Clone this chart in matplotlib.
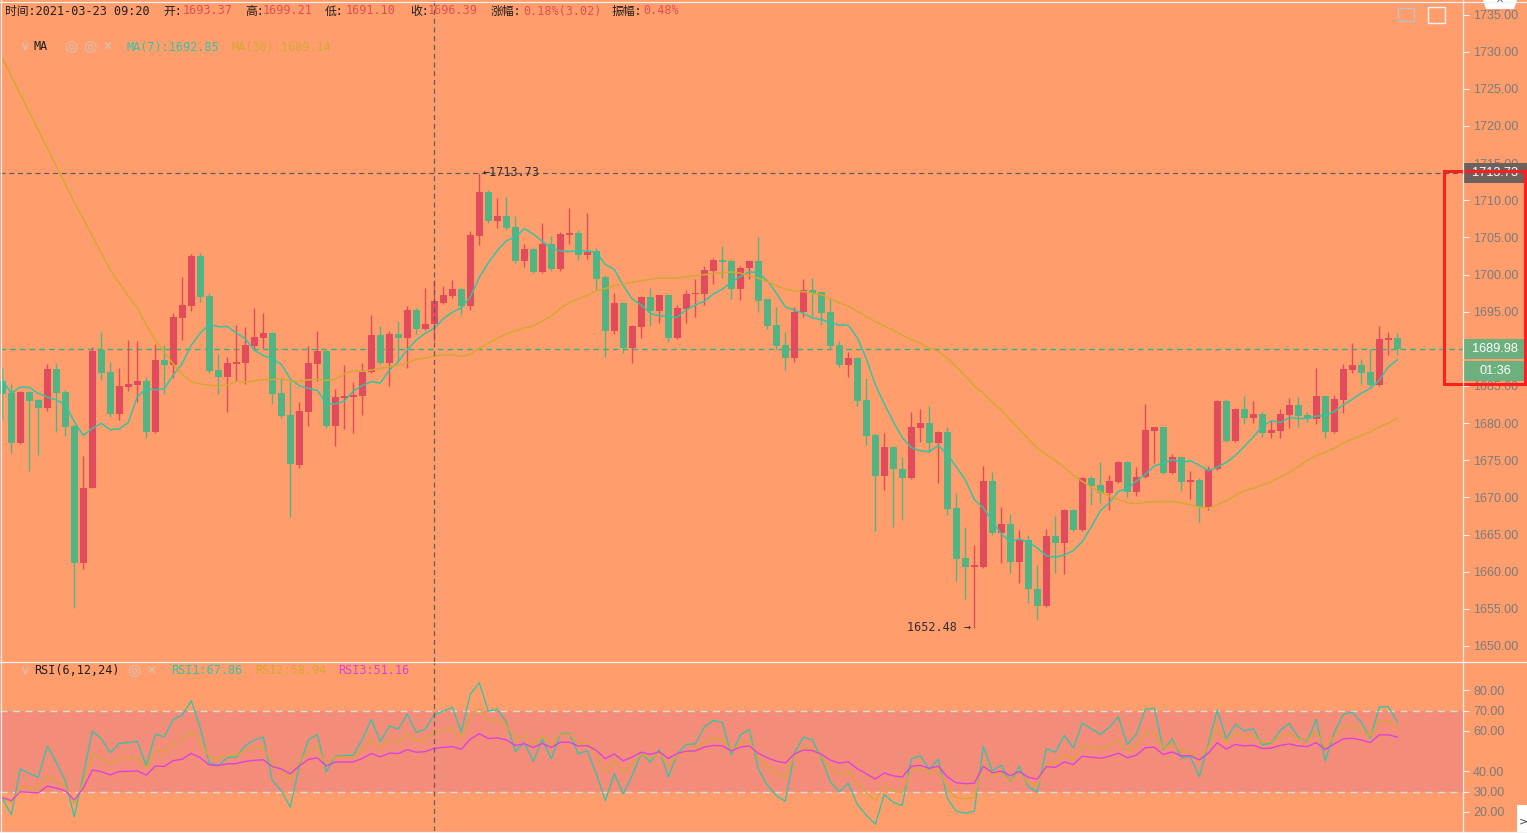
import numpy as np
import pandas as pd
import matplotlib
matplotlib.use("Agg")
import matplotlib.pyplot as plt
from matplotlib.patches import Rectangle, Polygon
from matplotlib.lines import Line2D
from matplotlib.transforms import blended_transform_factory

# ---------------- data ----------------
opens = [1685.67, 1684.01, 1677.28, 1684.19, 1683.11, 1682.08, 1687.29, 1684.19, 1679.61, 1661.12,
         1671.22, 1689.80, 1686.88, 1681.27, 1684.91, 1685.18, 1685.67, 1678.85, 1688.50, 1687.87,
         1694.20, 1695.81, 1702.50, 1697.11, 1687.15, 1686.25, 1687.96, 1688.05, 1690.38, 1691.50,
         1692.09, 1684.01, 1681.09, 1674.40, 1681.54, 1688.00, 1689.75, 1679.66, 1683.43, 1683.50,
         1683.65, 1686.92, 1691.86, 1688.14, 1692.00, 1691.50, 1695.23, 1692.71, 1693.37, 1696.21,
         1697.15, 1698.05, 1695.81, 1705.23, 1711.07, 1707.25, 1707.88, 1706.36, 1701.87, 1703.44,
         1700.39, 1704.11, 1700.79, 1705.37, 1705.64, 1702.63, 1703.22, 1699.62, 1692.45, 1696.13,
         1690.16, 1693.00, 1697.02, 1695.14, 1697.25, 1691.50, 1695.37, 1697.34, 1697.38, 1700.53,
         1701.96, 1701.83, 1698.06, 1700.84, 1701.83, 1696.67, 1693.21, 1690.52, 1688.81, 1694.92,
         1697.92, 1697.65, 1694.99, 1690.52, 1687.83, 1688.81, 1683.12, 1678.40, 1672.93, 1676.74,
         1673.83, 1672.66, 1679.39, 1680.06, 1677.37, 1678.85, 1668.62, 1661.89, 1660.68, 1660.68,
         1672.21, 1665.17, 1666.38, 1661.26, 1664.27, 1657.67, 1655.43, 1664.80, 1663.91, 1668.30,
         1665.61, 1672.61, 1671.67, 1670.64, 1672.12, 1674.76, 1670.77, 1672.70, 1678.98, 1679.43,
         1673.33, 1675.44, 1672.12, 1672.34, 1668.66, 1673.78, 1682.98, 1677.59, 1681.90, 1680.73,
         1681.23, 1678.71, 1679.00, 1681.09, 1682.44, 1681.05, 1680.60, 1683.65, 1678.85, 1683.11,
         1687.15, 1687.82, 1686.92, 1685.13, 1691.23, 1691.41]
highs = [1687.37, 1685.27, 1684.30, 1684.30, 1683.30, 1687.96, 1688.05, 1684.46, 1679.70, 1675.57,
         1690.29, 1692.27, 1688.23, 1687.46, 1691.19, 1691.10, 1686.25, 1690.61, 1690.47, 1694.87,
         1699.62, 1702.77, 1702.86, 1697.47, 1689.30, 1688.95, 1693.21, 1692.89, 1695.45, 1694.78,
         1692.30, 1686.03, 1685.89, 1682.80, 1690.43, 1692.40, 1689.85, 1684.59, 1687.78, 1685.49,
         1688.05, 1694.55, 1693.07, 1692.40, 1693.74, 1695.76, 1695.54, 1698.14, 1699.21, 1698.46,
         1699.26, 1698.23, 1705.91, 1713.73, 1711.38, 1710.26, 1710.48, 1707.88, 1704.11, 1703.60,
         1706.98, 1705.19, 1705.77, 1708.91, 1706.00, 1708.33, 1703.53, 1699.94, 1697.56, 1696.30,
         1693.20, 1697.10, 1698.23, 1697.30, 1697.30, 1695.90, 1697.92, 1699.40, 1701.15, 1702.19,
         1703.89, 1701.96, 1701.15, 1701.96, 1705.01, 1696.70, 1695.68, 1692.31, 1695.59, 1699.36,
         1699.58, 1697.70, 1696.80, 1691.10, 1689.62, 1688.90, 1686.12, 1678.50, 1678.72, 1676.80,
         1675.49, 1681.46, 1681.86, 1682.35, 1679.00, 1679.53, 1670.64, 1665.97, 1663.60, 1674.23,
         1673.47, 1668.67, 1667.77, 1665.62, 1664.94, 1660.90, 1665.75, 1667.50, 1668.40, 1668.40,
         1672.70, 1672.88, 1674.81, 1673.01, 1674.94, 1674.90, 1674.09, 1682.57, 1679.50, 1679.50,
         1675.84, 1675.50, 1673.55, 1672.57, 1674.27, 1683.10, 1683.25, 1682.00, 1683.65, 1682.98,
         1681.54, 1680.33, 1681.85, 1683.34, 1683.56, 1681.54, 1687.37, 1683.70, 1683.78, 1687.96,
         1690.74, 1688.63, 1689.98, 1693.12, 1692.31, 1692.18]
lows = [1680.42, 1675.93, 1677.20, 1673.60, 1675.71, 1681.68, 1678.85, 1678.31, 1655.07, 1660.32,
        1671.20, 1685.80, 1680.87, 1680.42, 1684.32, 1682.84, 1678.04, 1678.70, 1683.92, 1686.12,
        1691.19, 1695.14, 1696.35, 1686.80, 1683.92, 1681.50, 1685.71, 1685.27, 1689.84, 1690.07,
        1682.53, 1680.73, 1667.41, 1674.00, 1679.66, 1685.67, 1679.40, 1676.96, 1679.16, 1678.62,
        1681.09, 1686.80, 1687.90, 1684.99, 1688.27, 1687.46, 1691.99, 1692.53, 1691.10, 1695.99,
        1696.80, 1694.55, 1695.23, 1703.98, 1707.00, 1706.22, 1706.00, 1701.50, 1701.06, 1700.20,
        1700.20, 1700.50, 1700.48, 1704.11, 1701.96, 1702.09, 1697.92, 1688.95, 1692.00, 1689.40,
        1688.14, 1691.42, 1693.07, 1693.43, 1690.97, 1691.28, 1693.53, 1694.24, 1695.90, 1698.73,
        1699.49, 1696.67, 1696.58, 1699.36, 1695.01, 1692.63, 1690.00, 1687.15, 1688.19, 1694.24,
        1694.42, 1693.21, 1690.00, 1687.60, 1686.26, 1682.35, 1677.06, 1665.53, 1671.00, 1666.06,
        1666.96, 1672.50, 1677.51, 1676.16, 1671.90, 1667.63, 1658.80, 1656.28, 1652.48, 1660.50,
        1665.00, 1661.13, 1659.78, 1658.44, 1655.83, 1653.50, 1655.30, 1659.78, 1659.69, 1665.50,
        1665.50, 1668.98, 1669.20, 1668.30, 1672.00, 1670.01, 1670.23, 1672.60, 1674.67, 1673.20,
        1673.20, 1670.86, 1669.74, 1666.73, 1668.30, 1673.70, 1677.46, 1677.50, 1679.88, 1679.97,
        1678.18, 1677.95, 1678.04, 1679.30, 1679.52, 1680.10, 1679.84, 1678.04, 1678.70, 1681.41,
        1686.79, 1685.26, 1685.00, 1685.00, 1689.17, 1689.17]
closes = [1683.87, 1677.28, 1684.19, 1683.02, 1682.08, 1687.29, 1684.10, 1679.52, 1661.12, 1671.22,
          1689.71, 1686.79, 1681.27, 1685.00, 1685.27, 1685.67, 1678.85, 1688.50, 1687.87, 1694.24,
          1695.90, 1702.50, 1697.02, 1687.06, 1686.25, 1688.05, 1688.23, 1690.47, 1691.55, 1692.09,
          1683.96, 1681.00, 1674.45, 1681.63, 1688.09, 1689.71, 1679.66, 1683.56, 1683.69, 1683.78,
          1686.92, 1691.86, 1688.14, 1691.95, 1691.50, 1695.23, 1692.71, 1693.34, 1696.39, 1697.24,
          1698.05, 1695.81, 1705.32, 1711.07, 1707.25, 1707.88, 1706.31, 1701.87, 1703.44, 1700.39,
          1704.11, 1700.79, 1705.46, 1705.64, 1702.63, 1703.08, 1699.40, 1692.45, 1696.13, 1690.16,
          1693.07, 1697.02, 1695.14, 1697.25, 1691.50, 1695.54, 1697.38, 1697.47, 1700.62, 1701.96,
          1701.74, 1698.06, 1700.93, 1701.83, 1696.49, 1693.08, 1690.38, 1688.81, 1694.92, 1697.92,
          1697.56, 1694.87, 1690.38, 1687.83, 1688.81, 1682.98, 1678.31, 1672.93, 1676.74, 1673.78,
          1672.66, 1679.48, 1680.06, 1677.37, 1678.85, 1668.44, 1661.71, 1660.68, 1660.90, 1672.21,
          1665.17, 1666.38, 1661.26, 1664.27, 1657.63, 1655.43, 1664.80, 1663.91, 1668.30, 1665.61,
          1672.61, 1671.58, 1670.64, 1672.21, 1674.76, 1670.77, 1672.75, 1679.07, 1679.43, 1673.33,
          1675.44, 1672.12, 1672.30, 1668.66, 1673.78, 1682.98, 1677.59, 1681.90, 1680.73, 1681.23,
          1678.71, 1679.07, 1681.23, 1682.44, 1681.00, 1680.60, 1683.65, 1678.85, 1683.25, 1687.28,
          1687.82, 1686.79, 1685.13, 1691.32, 1691.41, 1689.98]
# moving-average values before a full window exists
ma7_head = [1685.80, 1684.00, 1684.86, 1684.80, 1684.00, 1683.50]
ma30_head = [1729.15, 1726.73, 1724.31, 1721.88, 1719.46, 1717.04, 1714.61, 1712.19, 1709.77, 1707.48,
             1705.19, 1702.90, 1700.61, 1698.86, 1697.11, 1695.50, 1693.21, 1691.19, 1689.58, 1687.96,
             1686.61, 1685.54, 1685.27, 1685.13, 1685.00, 1685.13, 1685.54, 1685.54, 1685.67]
# RSI starting state (average gain, average absolute change) before the first bar
rsi_periods = [6, 12, 24]
rsi_seed_up = [0.80, 1.35, 1.27]
rsi_seed_abs = [3.00, 5.00, 4.70]
price_ticks = [1650, 1655, 1660, 1665, 1670, 1675, 1680, 1685, 1690, 1695, 1700,
               1705, 1710, 1715, 1720, 1725, 1730, 1735]
rsi_ticks = [20, 30, 40, 60, 70, 80]
crosshair_index = 48
high_index, high_price = 53, 1713.73
low_index, low_price = 108, 1652.48
last_price = 1689.98
timer_text = "01:36"
header = [("时间:2021-03-23 09:20", None), ("开:", "1693.37"), ("高:", "1699.21"), ("低:", "1691.10"),
          ("收:", "1696.39"), ("涨幅:", "0.18%(3.02)"), ("振幅:", "0.48%")]
ma_legend = ["MA(7):1692.85", "MA(30):1689.14"]
rsi_legend = ["RSI1:67.86", "RSI2:58.94", "RSI3:51.16"]

# ---------------- derived ----------------
n = len(closes)
idx = np.arange(n)
o = np.array(opens); h = np.array(highs); l = np.array(lows); c = np.array(closes)
cs = pd.Series(c)
ma7 = cs.rolling(7).mean().to_numpy()
ma7[:len(ma7_head)] = ma7_head
ma30 = cs.rolling(30).mean().to_numpy()
ma30[:len(ma30_head)] = ma30_head


def rsi_cn(close, period, up0, abs0):
    up, ab = up0, abs0
    out = [100.0 * up / ab]
    for k in range(1, len(close)):
        d = close[k] - close[k - 1]
        up = (max(d, 0.0) + (period - 1) * up) / period
        ab = (abs(d) + (period - 1) * ab) / period
        out.append(100.0 * up / ab)
    return np.array(out)


rsis = [rsi_cn(c, p, u, a) for p, u, a in zip(rsi_periods, rsi_seed_up, rsi_seed_abs)]

# ---------------- style ----------------
W, H = 1527, 833
BG = "#FF9E6C"
UP = "#E24B5B"
DOWN = "#50B583"
TEAL = "#33C4A6"
GOLD = "#D4A834"
MAG = "#D940E0"
BAND = "#F48C7A"
LINEC = "#F3F3F3"
AXTXT = "#7B7B7B"
VALRED = "#E04F4F"
MONO = ["DejaVu Sans Mono", "Noto Sans CJK SC"]

plt.rcParams["font.family"] = ["Liberation Sans", "DejaVu Sans", "Noto Sans CJK SC"]

fig = plt.figure(figsize=(W / 100, H / 100), dpi=100)
fig.patch.set_facecolor(BG)

AX_RIGHT = 1463
MAIN_BOTTOM = 662
RSI_BOTTOM = 831


def px_axes(x0, y0, x1, y1):
    return fig.add_axes([x0 / W, 1 - y1 / H, (x1 - x0) / W, (y1 - y0) / H])


ax = px_axes(0, 0, AX_RIGHT, MAIN_BOTTOM)
ax2 = px_axes(0, MAIN_BOTTOM, AX_RIGHT, RSI_BOTTOM)

step = 9.0
first_px = 2.3
xlim = (-first_px / step, (AX_RIGHT - first_px) / step)
main_ylim = (1647.84, 1736.96)
rsi_ylim = (10.45, 94.1)

for a in (ax, ax2):
    a.set_facecolor(BG)
    a.set_xlim(*xlim)
    for s in a.spines.values():
        s.set_visible(False)
    a.set_xticks([])
    a.yaxis.tick_right()
    a.tick_params(axis="y", direction="out", length=4.3, width=0.8, colors=LINEC,
                  labelcolor=AXTXT, labelsize=9, pad=3)
ax.set_ylim(*main_ylim)
ax2.set_ylim(*rsi_ylim)
ax.set_yticks(price_ticks)
ax.yaxis.set_major_formatter("{x:.2f}")
ax2.set_yticks(rsi_ticks)
ax2.yaxis.set_major_formatter("{x:.2f}")

# ---------------- candles ----------------
up_mask = c >= o
cols = np.where(up_mask, UP, DOWN)
body_bottom = np.minimum(o, c)
body_h = np.maximum(np.abs(c - o), 0.16)
ax.vlines(idx, l, h, colors=cols, linewidth=1.0, zorder=3)
ax.bar(idx, body_h, bottom=body_bottom, width=0.74, color=cols, linewidth=0, zorder=4)

ax.plot(idx, ma7, color=TEAL, lw=1.1, zorder=5)
ax.plot(idx, ma30, color=GOLD, lw=1.1, zorder=5)

ax.axhline(high_price, color="#5E5E5E", lw=0.9, dashes=(4, 3), zorder=2)
ax.axhline(last_price, color="#2DB38A", lw=1.0, dashes=(4, 3), zorder=2)
ax.axvline(crosshair_index, color="#5E5E5E", lw=0.9, dashes=(4, 3), zorder=6)

ax.annotate("←" + f"{high_price:.2f}", xy=(high_index, high_price), xytext=(3, 0),
            textcoords="offset pixels", ha="left", va="center", fontsize=8.5,
            family=MONO, color="#2E2E2E", zorder=7)
ax.annotate(f"{low_price:.2f}" + " →", xy=(low_index, low_price), xytext=(-3, 0),
            textcoords="offset pixels", ha="right", va="center", fontsize=8.5,
            family=MONO, color="#2E2E2E", zorder=7)

# price boxes on the right axis
bt = blended_transform_factory(ax.transAxes, ax.transData)
ppx = (main_ylim[1] - main_ylim[0]) / MAIN_BOTTOM  # price per pixel
xr = W / AX_RIGHT
box_mid = (1 + xr) / 2


def price_box(p, txt, color, dy_px=0):
    yc = p - dy_px * ppx
    ax.add_patch(Rectangle((1.0, yc - 10 * ppx), xr - 1.0, 20 * ppx, transform=bt,
                           facecolor=color, edgecolor="none", clip_on=False, zorder=20))
    ax.text(box_mid, yc, txt, transform=bt, ha="center", va="center", fontsize=9.2,
            color="white", clip_on=False, zorder=21)


price_box(high_price, f"{high_price:.2f}", "#6E605C")
price_box(last_price, f"{last_price:.2f}", "#6CB07D")
price_box(last_price, timer_text, "#6CB07D", dy_px=21.9)

# ---------------- RSI ----------------
ax2.axhspan(30, 70, color=BAND, zorder=1, lw=0)
ax2.axhline(70, color="#DADADA", lw=1.0, dashes=(5, 4), zorder=2)
ax2.axhline(30, color="#DADADA", lw=1.0, dashes=(5, 4), zorder=2)
for r, col in zip(rsis, [TEAL, GOLD, MAG]):
    ax2.plot(idx, r, color=col, lw=0.95, zorder=4)
ax2.axvline(crosshair_index, color="#5E5E5E", lw=0.9, dashes=(4, 3), zorder=6)


# ---------------- texts ----------------
def ftext(x, y, s, **kw):
    kw.setdefault("va", "center")
    kw.setdefault("ha", "left")
    kw.setdefault("fontsize", 8.5)
    kw.setdefault("family", MONO)
    return fig.text(x / W, 1 - y / H, s, **kw)


hx = [(5, None), (163, 183), (245, 263), (325, 346), (410, 428), (491, 523), (612, 643)]
for (lab, val), (x0, x1) in zip(header, hx):
    ftext(x0, 11, lab, color="#1E1E1E")
    if val is not None:
        ftext(x1, 11, val, color=VALRED)

ICON = "#D2C6BC"
ftext(20, 47, "∨", color=ICON, family=["DejaVu Sans"])
ftext(34, 47, "MA", color="#1E1E1E")
ftext(64, 47, "◎", color=ICON, family=["DejaVu Sans"], fontsize=11)
ftext(83, 47, "◎", color=ICON, family=["DejaVu Sans"], fontsize=11)
ftext(103, 47, "✕", color=ICON, family=["DejaVu Sans"])
ftext(126, 47, ma_legend[0], color=TEAL)
ftext(232, 47, ma_legend[1], color=GOLD)

ftext(20, 671, "∨", color=ICON, family=["DejaVu Sans"])
ftext(34, 671, "RSI(6,12,24)", color="#1E1E1E")
ftext(127, 671, "◎", color=ICON, family=["DejaVu Sans"], fontsize=11)
ftext(147, 671, "✕", color=ICON, family=["DejaVu Sans"])
ftext(171, 671, rsi_legend[0], color=TEAL)
ftext(255, 671, rsi_legend[1], color=GOLD)
ftext(338, 671, rsi_legend[2], color=MAG)


# ---------------- frame lines & widgets ----------------
def fline(x0, y0, x1, y1, **kw):
    fig.add_artist(Line2D([x0 / W, x1 / W], [1 - y0 / H, 1 - y1 / H], transform=fig.transFigure, **kw))


def frect(x, y, w, hh, **kw):
    fig.add_artist(Rectangle((x / W, 1 - (y + hh) / H), w / W, hh / H, transform=fig.transFigure, **kw))


fline(0, 1.5, W, 1.5, color=LINEC, lw=0.9)
fline(0, MAIN_BOTTOM, W, MAIN_BOTTOM, color=LINEC, lw=0.9)
fline(0, RSI_BOTTOM + 0.5, W, RSI_BOTTOM + 0.5, color=LINEC, lw=0.9)
fline(AX_RIGHT, 0, AX_RIGHT, H, color=LINEC, lw=0.9)
fline(1, 0, 1, H, color=LINEC, lw=0.9)

# top-right tab and icons
fig.add_artist(Polygon([(1483 / W, 1), (1517 / W, 1), (1514 / W, 1 - 9 / H), (1486 / W, 1 - 9 / H)],
                       closed=True, transform=fig.transFigure, facecolor="white", edgecolor="none"))
ftext(1500, 4, "^", ha="center", color="#555555", fontsize=7, family=["DejaVu Sans"])
frect(1398, 8, 16, 13, facecolor="none", edgecolor="#B8C2CC", lw=0.9)
frect(1428, 7, 17, 16, facecolor="none", edgecolor="#F2F2F2", lw=1.0)
# bottom-right tab
frect(1517, 805, 12, 30, facecolor="white", edgecolor="none")
ftext(1523, 821, ">", ha="center", color="#444444", fontsize=8, family=["DejaVu Sans"])

# red highlight rectangle
frect(1443.5, 171.5, 81, 212, facecolor="none", edgecolor="#FF1E1E", lw=2.2)

fig.savefig("out.png", dpi=100, facecolor=BG)
